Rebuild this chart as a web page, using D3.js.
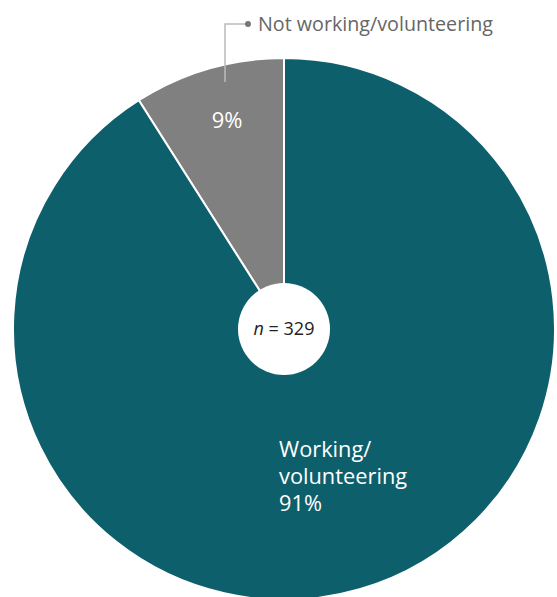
<!DOCTYPE html>
<html>
<head>
<meta charset="utf-8">
<script src="https://cdn.jsdelivr.net/npm/d3@7"></script>
<style>
  html, body { margin: 0; padding: 0; background: #fff; }
  svg { display: block; }
  text { font-family: "Open Sans", Lato, sans-serif; }
</style>
</head>
<body>
<svg id="chart" width="557" height="597"></svg>
<script>
const categories = ["Not working/volunteering", "Working/volunteering"];
const shares = [9, 91];
const colors = ["#808080", "#0d5f6c"];
const sampleSize = 329;

const svg = d3.select("#chart");
const cx = 284, cy = 329, outerR = 271, holeR = 46;

const pie = d3.pie().sort(null).value(d => d.value)
  .startAngle(-2 * Math.PI * shares[0] / 100).endAngle(2 * Math.PI - 2 * Math.PI * shares[0] / 100);
const data = categories.map((c, i) => ({ name: c, value: shares[i], color: colors[i] }));
const arcs = pie(data);
const arc = d3.arc().innerRadius(0).outerRadius(outerR);

const g = svg.append("g").attr("transform", `translate(${cx},${cy})`);
g.selectAll("path.slice").data(arcs).join("path")
  .attr("class", "slice")
  .attr("d", arc)
  .attr("fill", d => d.data.color)
  .attr("stroke", "#fff")
  .attr("stroke-width", 2);

// centre hole with sample size
g.append("circle").attr("r", holeR).attr("fill", "#fff");
const nText = g.append("text").attr("text-anchor", "middle").attr("y", 6)
  .attr("font-size", 18).attr("fill", "#222");
nText.append("tspan").attr("font-style", "italic").text("n");
nText.append("tspan").text(` = ${sampleSize}`);

// small-slice percentage
g.append("text").attr("x", 227 - cx).attr("y", 128 - cy)
  .attr("text-anchor", "middle").attr("font-size", 22).attr("fill", "#fff")
  .text(`${shares[0]}%`);

// leader line for the small slice
svg.append("path")
  .attr("d", "M225,82 V24 H248")
  .attr("fill", "none").attr("stroke", "#bbb").attr("stroke-width", 1.5);
svg.append("circle").attr("cx", 248).attr("cy", 24).attr("r", 3).attr("fill", "#777");
svg.append("text").attr("x", 258).attr("y", 31)
  .attr("font-size", 19.7).attr("fill", "#666").text(categories[0]);

// large-slice label
const big = svg.append("text").attr("x", 279).attr("font-size", 21.8).attr("fill", "#fff");
["Working/", "volunteering", `${shares[1]}%`].forEach((t, i) => {
  big.append("tspan").attr("x", 279).attr("y", 457 + i * 27).text(t);
});
</script>
</body>
</html>
